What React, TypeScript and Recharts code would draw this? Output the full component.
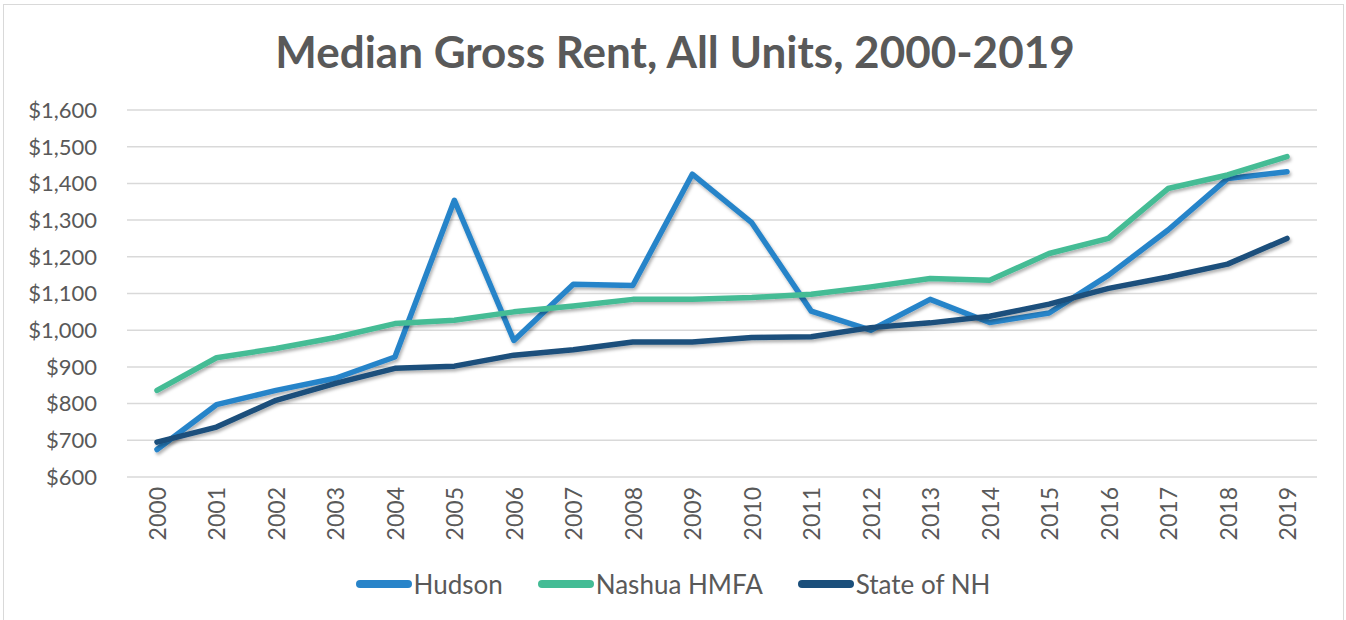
import React from "react";
import { LineChart, Line, XAxis, YAxis, CartesianGrid } from "recharts";

const years = [
  "2000", "2001", "2002", "2003", "2004", "2005", "2006", "2007", "2008", "2009",
  "2010", "2011", "2012", "2013", "2014", "2015", "2016", "2017", "2018", "2019",
];
const hudson = [675, 797, 836, 869, 927, 1354, 972, 1125, 1122, 1425, 1293, 1052, 1000, 1084, 1021, 1047, 1150, 1273, 1413, 1432];
const nashua = [836, 925, 950, 980, 1018, 1027, 1050, 1066, 1084, 1084, 1089, 1098, 1118, 1141, 1136, 1209, 1250, 1386, 1423, 1473];
const stateNH = [695, 736, 809, 855, 896, 902, 932, 947, 968, 968, 980, 982, 1007, 1020, 1038, 1071, 1114, 1145, 1180, 1250];
const yTicks = [600, 700, 800, 900, 1000, 1100, 1200, 1300, 1400, 1500, 1600];

const series = [
  { key: "hudson", name: "Hudson", color: "#2884C9" },
  { key: "nashua", name: "Nashua HMFA", color: "#44BC95" },
  { key: "stateNH", name: "State of NH", color: "#1B4F7B" },
];

const data = years.map((year, i) => ({
  year,
  hudson: hudson[i],
  nashua: nashua[i],
  stateNH: stateNH[i],
}));

const FONT = "Lato, 'Open Sans', sans-serif";
const TEXT = "#595959";

const fmt = (v: number) => "$" + v.toLocaleString("en-US");

function YearTick(props: any) {
  const { x, y, payload } = props;
  return (
    <text
      x={x}
      y={y}
      transform={`rotate(-90, ${x}, ${y})`}
      textAnchor="end"
      dominantBaseline="central"
      fill={TEXT}
      fontSize={23}
      fontFamily={FONT}
    >
      {payload.value}
    </text>
  );
}

export default function App() {
  return (
    <div style={{ position: "absolute", left: 0, top: 0, width: 1346, height: 620, background: "#fff", overflow: "hidden" }}>
      <div
        style={{
          position: "absolute",
          left: 3,
          top: 4,
          width: 1339,
          height: 640,
          border: "1px solid #D9D9D9",
        }}
      />
      <div
        style={{
          position: "absolute",
          left: 0,
          top: 25,
          width: 1350,
          textAlign: "center",
          fontFamily: FONT,
          fontWeight: 700,
          fontSize: 44,
          color: TEXT,
        }}
      >
        Median Gross Rent, All Units, 2000-2019
      </div>
      <div style={{ position: "absolute", left: 0, top: 0 }}>
        <LineChart width={1346} height={620} data={data} margin={{ top: 110, right: 29, left: 27, bottom: 73 }}>
          <defs>
            <filter id="lineShadow" x="-5%" y="-20%" width="110%" height="140%">
              <feDropShadow dx="1.5" dy="2.5" stdDeviation="1.8" floodColor="#000" floodOpacity="0.3" />
            </filter>
          </defs>
          <CartesianGrid vertical={false} stroke="#D9D9D9" strokeWidth={1.5} />
          <XAxis
            dataKey="year"
            axisLine={false}
            tickLine={false}
            interval={0}
            height={70}
            padding={{ left: 30, right: 30 }}
            tick={<YearTick />}
            tickSize={0}
            tickMargin={10}
          />
          <YAxis
            domain={[600, 1600]}
            ticks={yTicks}
            tickFormatter={fmt}
            axisLine={false}
            tickLine={false}
            width={100}
            tickMargin={24}
            tick={{ fill: TEXT, fontSize: 22, fontFamily: FONT }}
          />
          {series.map((s) => (
            <Line
              key={s.key}
              dataKey={s.key}
              name={s.name}
              stroke={s.color}
              strokeWidth={5.5}
              dot={false}
              type="linear"
              strokeLinecap="round"
              strokeLinejoin="round"
              filter="url(#lineShadow)"
              isAnimationActive={false}
            />
          ))}
        </LineChart>
      </div>
      <div
        style={{
          position: "absolute",
          left: 0,
          top: 568,
          width: 1346,
          display: "flex",
          justifyContent: "center",
          gap: 35,
          fontFamily: FONT,
          fontSize: 26,
          color: TEXT,
        }}
      >
        {series.map((s) => (
          <div key={s.key} style={{ display: "flex", alignItems: "center" }}>
            <span style={{ display: "inline-block", width: 56, height: 8, borderRadius: 4, background: s.color, marginRight: 2 }} />
            <span>{s.name}</span>
          </div>
        ))}
      </div>
    </div>
  );
}
